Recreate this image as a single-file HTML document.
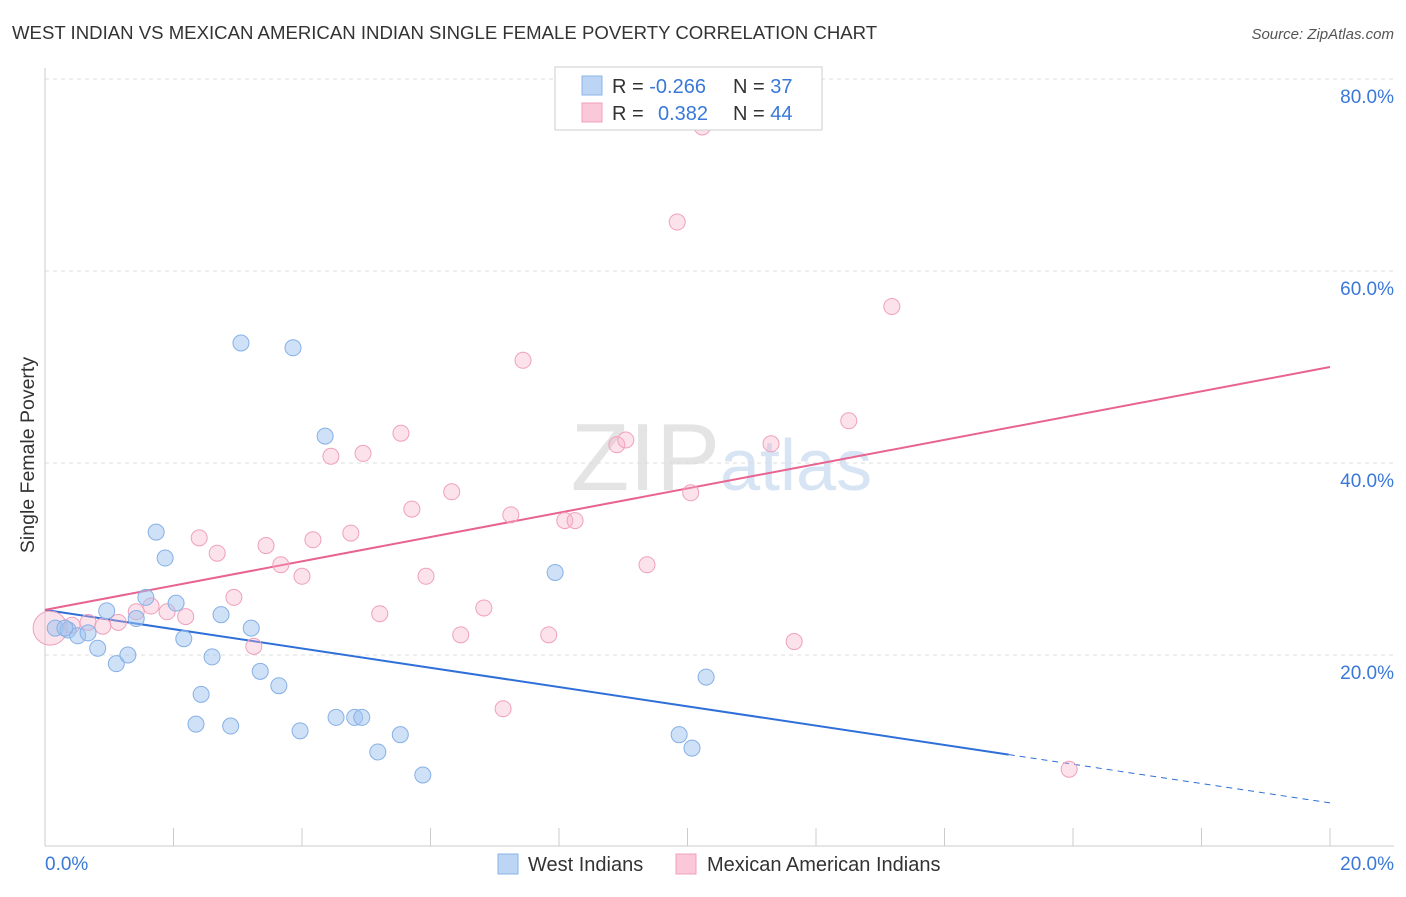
<!DOCTYPE html>
<html><head><meta charset="utf-8"><style>
body{margin:0;background:#fff;font-family:"Liberation Sans",sans-serif}
svg text{font-family:"Liberation Sans",sans-serif}
</style></head><body>
<svg id="c" width="1406" height="892">
<text x="12" y="39" font-size="18.6" fill="#333">WEST INDIAN VS MEXICAN AMERICAN INDIAN SINGLE FEMALE POVERTY CORRELATION CHART</text>
<text x="1394" y="39" font-size="15" fill="#555" text-anchor="end" font-style="italic">Source: ZipAtlas.com</text>
<text x="720" y="490" font-size="96" fill="#e4e4e4" text-anchor="end" font-family="Liberation Serif">ZIP</text>
<text x="720" y="490" font-size="72" fill="#d6e4f4">atlas</text>
<text transform="translate(34,455) rotate(-90)" font-size="19.5" fill="#333" text-anchor="middle">Single Female Poverty</text>
<g id="grid"></g><g id="trends"></g><g id="pts"></g>
<g>
<rect x="555" y="67" width="267" height="63" fill="#fff" stroke="#ccc"/>
<rect x="582" y="76" width="20" height="19" fill="#bdd5f5" stroke="#8ab4e8"/>
<rect x="582" y="103" width="20" height="19" fill="#fac8d8" stroke="#f0a0bb"/>
<text x="612" y="93" font-size="20" fill="#333">R = <tspan fill="#3a78d8">-0.266</tspan><tspan x="733">N = </tspan><tspan fill="#3a78d8">37</tspan></text>
<text x="612" y="120" font-size="20" fill="#333">R = <tspan x="658" fill="#3a78d8">0.382</tspan><tspan x="733">N = </tspan><tspan fill="#3a78d8">44</tspan></text>
</g>
<g>
<rect x="498" y="854" width="20" height="20" fill="#bdd5f5" stroke="#8ab4e8"/>
<text x="528" y="871" font-size="20" fill="#333">West Indians</text>
<rect x="676" y="854" width="20" height="20" fill="#fac8d8" stroke="#f0a0bb"/>
<text x="707" y="871" font-size="20" fill="#333">Mexican American Indians</text>
</g>
</svg>
<script>
const blueX=[0.16,0.36,0.51,0.67,0.82,0.96,1.11,1.29,1.42,1.57,1.73,1.87,2.04,2.16,2.35,2.43,2.60,2.74,2.89,3.05,3.21,3.35,3.64,3.86,3.97,4.36,4.53,4.82,4.93,5.18,5.53,5.88,7.94,9.87,10.07,10.29,0.31];
const blueY=[22.8,22.6,22.0,22.3,20.7,24.6,19.1,20.0,23.8,26.0,32.8,30.1,25.4,21.7,12.8,15.9,19.8,24.2,12.6,52.5,22.8,18.3,16.8,52.0,12.1,42.8,13.5,13.5,13.5,9.9,11.7,7.5,28.6,11.7,10.3,17.7,22.8];
const pinkX=[0.08,0.42,0.67,0.90,1.14,1.42,1.65,1.90,2.19,2.40,2.68,2.94,3.25,3.44,3.67,4.00,4.17,4.45,4.76,4.95,5.21,5.54,5.71,5.93,6.33,6.47,6.83,7.13,7.25,7.44,7.84,8.09,8.25,8.90,9.04,9.37,9.84,10.05,10.23,11.30,11.66,12.51,13.18,15.94];
const pinkY=[22.8,23.1,23.4,23.0,23.4,24.5,25.1,24.5,24.0,32.2,30.6,26.0,20.9,31.4,29.4,28.2,32.0,40.7,32.7,41.0,24.3,43.1,35.2,28.2,37.0,22.1,24.9,14.4,34.6,50.7,22.1,34.0,34.0,41.9,42.4,29.4,65.1,36.9,75.0,42.0,21.4,44.4,56.3,8.1];
const yTicks=[20,40,60,80];
const yTickLabels=["20.0%","40.0%","60.0%","80.0%"];
const xTickLabels=["0.0%","20.0%"];
const blueTrend=[24.7,4.6];
const pinkTrend=[24.7,50.0];
const blueSolidEnd=15.0;
const NS="http://www.w3.org/2000/svg";
const X=v=>45+v*64.25, Y=v=>847-v*9.6;
function mk(tag,attrs,parent){const e=document.createElementNS(NS,tag);for(const k in attrs)e.setAttribute(k,attrs[k]);parent.appendChild(e);return e;}
const grid=document.getElementById('grid');
yTicks.forEach((t,i)=>{
 const l=mk('line',{x1:45,x2:1394,y1:Y(t),y2:Y(t),stroke:'#ddd','stroke-dasharray':'4,4'},grid);
 
 
 const tx=mk('text',{x:1394,y:Y(t)+24,'font-size':19,fill:'#3a78d8','text-anchor':'end'},grid);
 tx.textContent=yTickLabels[i];
 
 
});
let a=mk('line',{x1:45,x2:45,y1:68,y2:846,stroke:'#ccc'},grid);


a=mk('line',{x1:45,x2:1394,y1:846,y2:846,stroke:'#ccc'},grid);


for(let i=1;i<=10;i++){const t=mk('line',{x1:X(i*2),x2:X(i*2),y1:828,y2:846,stroke:'#ccc'},grid);
 
 }
xTickLabels.forEach((s,i)=>{const t=mk('text',{x:i?1394:45,y:870,'font-size':19,fill:'#3a78d8','text-anchor':i?'end':'start'},grid);t.textContent=s;
 
 });
const tr=document.getElementById('trends');
const by=x=>blueTrend[0]+(blueTrend[1]-blueTrend[0])*x/20;
let l=mk('line',{x1:X(0),y1:Y(by(0)),x2:X(blueSolidEnd),y2:Y(by(blueSolidEnd)),stroke:'#2f6fd8','stroke-width':2},tr);


l=mk('line',{x1:X(blueSolidEnd),y1:Y(by(blueSolidEnd)),x2:X(20),y2:Y(by(20)),stroke:'#2f6fd8','stroke-width':1,'stroke-dasharray':'6,5'},tr);


l=mk('line',{x1:X(0),y1:Y(pinkTrend[0]),x2:X(20),y2:Y(pinkTrend[1]),stroke:'#e8638f','stroke-width':2},tr);


const pts=document.getElementById('pts');
pinkX.forEach((x,i)=>{const c=mk('circle',{cx:X(x),cy:Y(pinkY[i]),r:i===0?17:8,fill:'rgba(247,175,198,0.35)',stroke:'#f0a0bb','stroke-width':1},pts);
 
 });
blueX.forEach((x,i)=>{const c=mk('circle',{cx:X(x),cy:Y(blueY[i]),r:8,fill:'rgba(160,195,240,0.5)',stroke:'#86b0e6','stroke-width':1},pts);
 
 });
</script>
</body></html>
